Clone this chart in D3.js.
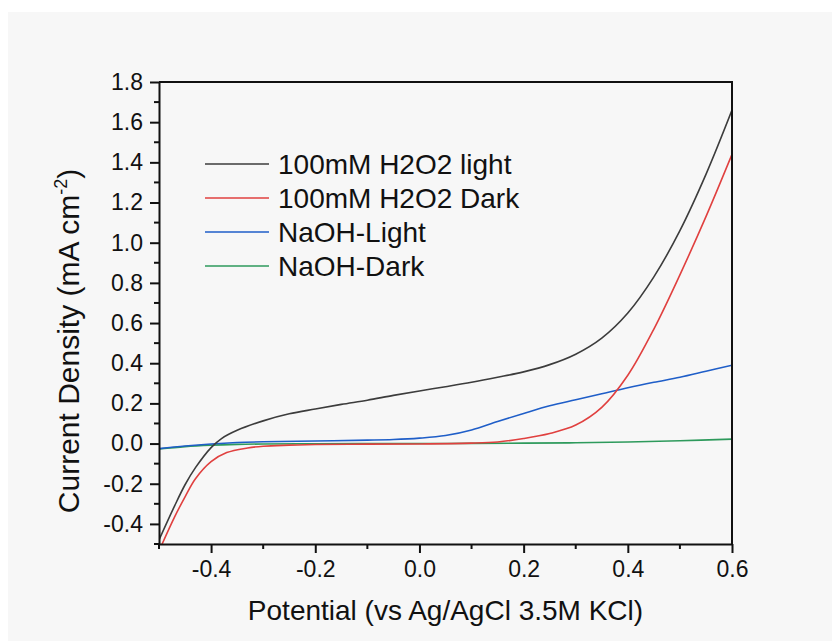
<!DOCTYPE html>
<html>
<head>
<meta charset="utf-8">
<title>Current density vs potential</title>
<script src="https://cdn.jsdelivr.net/npm/d3@7/dist/d3.min.js"></script>
<style>
  body { margin: 0; background: #fff; }
  text { font-family: "Liberation Sans", Arial, sans-serif; fill: #111; }
</style>
</head>
<body>
<script>
// potentials (V vs Ag/AgCl) and current densities
const h2o2LightX = [-0.50, -0.47, -0.45, -0.43, -0.40, -0.38, -0.35, -0.30, -0.25, -0.20, -0.15, -0.10, -0.05, 0.00, 0.05, 0.10, 0.15, 0.20, 0.25, 0.30, 0.35, 0.40, 0.45, 0.50, 0.55, 0.60];
const h2o2LightY = [-0.48, -0.31, -0.205, -0.12, -0.02, 0.025, 0.066, 0.113, 0.148, 0.172, 0.195, 0.216, 0.240, 0.262, 0.283, 0.305, 0.330, 0.357, 0.393, 0.445, 0.525, 0.65, 0.83, 1.06, 1.34, 1.66];

const h2o2DarkX = [-0.50, -0.47, -0.45, -0.43, -0.40, -0.37, -0.33, -0.30, -0.25, -0.20, -0.10, 0.00, 0.10, 0.15, 0.20, 0.25, 0.30, 0.35, 0.40, 0.45, 0.50, 0.55, 0.60];
const h2o2DarkY = [-0.535, -0.365, -0.265, -0.175, -0.09, -0.045, -0.022, -0.013, -0.008, -0.005, -0.003, -0.002, 0.002, 0.008, 0.025, 0.05, 0.092, 0.18, 0.34, 0.57, 0.84, 1.13, 1.44];

const naohLightX = [-0.50, -0.45, -0.40, -0.35, -0.30, -0.20, -0.10, -0.05, 0.00, 0.05, 0.10, 0.15, 0.20, 0.25, 0.30, 0.35, 0.40, 0.45, 0.50, 0.55, 0.60];
const naohLightY = [-0.025, -0.012, -0.002, 0.005, 0.009, 0.013, 0.017, 0.020, 0.027, 0.040, 0.068, 0.110, 0.150, 0.188, 0.218, 0.248, 0.278, 0.305, 0.330, 0.360, 0.390];

const naohDarkX = [-0.50, -0.45, -0.40, -0.35, -0.30, -0.20, -0.10, 0.00, 0.10, 0.20, 0.30, 0.40, 0.50, 0.60];
const naohDarkY = [-0.027, -0.015, -0.008, -0.004, -0.002, -0.001, 0.000, 0.000, 0.001, 0.002, 0.004, 0.008, 0.014, 0.022];

const seriesNames = ["100mM H2O2 light", "100mM H2O2 Dark", "NaOH-Light", "NaOH-Dark"];
const seriesColors = ["#3c3c3c", "#e0403f", "#1f5ec8", "#2e9a5c"];

const xTicks = [-0.4, -0.2, 0.0, 0.2, 0.4, 0.6];
const yTicks = [-0.4, -0.2, 0.0, 0.2, 0.4, 0.6, 0.8, 1.0, 1.2, 1.4, 1.6, 1.8];

const series = [
  [h2o2LightX, h2o2LightY],
  [h2o2DarkX, h2o2DarkY],
  [naohLightX, naohLightY],
  [naohDarkX, naohDarkY]
].map(([xs, ys], i) => ({
  name: seriesNames[i],
  color: seriesColors[i],
  points: xs.map((x, j) => [x, ys[j]])
}));

const width = 832, height = 641;
const margin = { left: 159, top: 82, right: 100, bottom: 97 };

const svg = d3.select("body").append("svg")
  .attr("width", width)
  .attr("height", height);

// the scanned page has a faint grey area
svg.append("rect")
  .attr("x", 8).attr("y", 12)
  .attr("width", width - 8).attr("height", height - 12)
  .attr("fill", "#f7f7f7");

const x = d3.scaleLinear().domain([-0.5, 0.6]).range([margin.left, width - margin.right]);
const y = d3.scaleLinear().domain([-0.5, 1.8]).range([height - margin.bottom, margin.top]);

svg.append("clipPath").attr("id", "plot")
  .append("rect")
  .attr("x", x(-0.5)).attr("y", y(1.8))
  .attr("width", x(0.6) - x(-0.5)).attr("height", y(-0.5) - y(1.8));

const line = d3.line()
  .x(d => x(d[0]))
  .y(d => y(d[1]))
  .curve(d3.curveCatmullRom.alpha(0.5));

svg.append("g").attr("clip-path", "url(#plot)")
  .selectAll("path")
  .data(series.slice().reverse())
  .join("path")
  .attr("d", d => line(d.points))
  .attr("fill", "none")
  .attr("stroke", d => d.color)
  .attr("stroke-width", 1.6);

// axes: major ticks labelled, minor ticks in between
const minorX = d3.range(-0.5, 0.61, 0.1).filter(v => !xTicks.some(t => Math.abs(t - v) < 1e-6));
const minorY = d3.range(-0.5, 1.81, 0.1).filter(v => !yTicks.some(t => Math.abs(t - v) < 1e-6));
const fmt = d => d.toFixed(1);

const xAxis = svg.append("g")
  .attr("transform", `translate(0,${y(-0.5)})`)
  .call(d3.axisBottom(x).tickValues(xTicks).tickFormat(fmt).tickSize(9).tickPadding(8).tickSizeOuter(0));
xAxis.append("g").selectAll("line").data(minorX).join("line")
  .attr("x1", d => x(d)).attr("x2", d => x(d))
  .attr("y1", 0).attr("y2", 5)
  .attr("stroke", "#111").attr("stroke-width", 2);

const yAxis = svg.append("g")
  .attr("transform", `translate(${x(-0.5)},0)`)
  .call(d3.axisLeft(y).tickValues(yTicks).tickFormat(fmt).tickSize(9).tickPadding(7).tickSizeOuter(0));
yAxis.append("g").selectAll("line").data(minorY).join("line")
  .attr("x1", 0).attr("x2", -5)
  .attr("y1", d => y(d)).attr("y2", d => y(d))
  .attr("stroke", "#111").attr("stroke-width", 2);

[xAxis, yAxis].forEach(a => {
  a.select(".domain").attr("stroke", "#111").attr("stroke-width", 2);
  a.selectAll(".tick line").attr("stroke", "#111").attr("stroke-width", 2);
  a.selectAll(".tick text")
    .attr("font-family", "Liberation Sans, Arial, sans-serif")
    .attr("font-size", 23)
    .attr("fill", "#111");
});

// top and right frame
svg.append("path")
  .attr("d", `M${x(-0.5)},${y(1.8)}H${x(0.6)}V${y(-0.5)}`)
  .attr("fill", "none")
  .attr("stroke", "#111")
  .attr("stroke-width", 2);

// axis titles
svg.append("text")
  .attr("x", (x(-0.5) + x(0.6)) / 2)
  .attr("y", 620)
  .attr("text-anchor", "middle")
  .attr("font-size", 28)
  .text("Potential (vs Ag/AgCl 3.5M KCl)");

const yTitle = svg.append("text")
  .attr("transform", `translate(79,341) rotate(-90)`)
  .attr("text-anchor", "middle")
  .attr("font-size", 30);
yTitle.append("tspan").text("Current Density (mA cm");
yTitle.append("tspan").attr("font-size", 18).attr("dy", -12).text("-2");
yTitle.append("tspan").attr("dy", 12).text(")");

// legend
const legend = svg.append("g").selectAll("g")
  .data(series)
  .join("g")
  .attr("transform", (d, i) => `translate(205,${164 + i * 34})`);
legend.append("line")
  .attr("x1", 0).attr("x2", 64)
  .attr("stroke", d => d.color)
  .attr("stroke-width", 1.6);
legend.append("text")
  .attr("x", 73)
  .attr("dy", "0.35em")
  .attr("font-size", 28)
  .text(d => d.name);
</script>
</body>
</html>
